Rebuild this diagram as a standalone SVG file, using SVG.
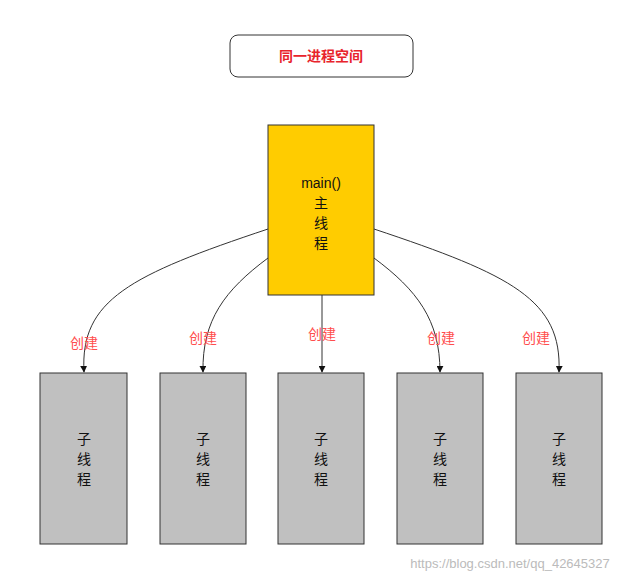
<svg xmlns="http://www.w3.org/2000/svg" width="643" height="579" viewBox="0 0 643 579">
<style>
.t{font-family:"Liberation Sans","Noto Sans CJK SC",sans-serif;font-size:14px;text-anchor:middle;fill:#111}
.c{fill:#c0c0c0;stroke:#333;stroke-width:1}
.l{font-family:"Liberation Sans","Noto Sans CJK SC",sans-serif;font-size:14px;text-anchor:middle;fill:#ff4d4d}
.e{fill:none;stroke:#333;stroke-width:1;marker-end:url(#a)}
</style>
<defs><marker id="a" viewBox="0 0 10 10" refX="9" refY="5" markerWidth="7" markerHeight="7" orient="auto"><path d="M0,0 L10,5 L0,10 z" fill="#111"/></marker></defs>
<rect width="643" height="579" fill="#fff"/>
<g id="title"><rect x="230" y="35" width="183" height="42" rx="8" fill="#fff" stroke="#333"/><text x="321" y="61" class="t" style="fill:#e8242c;font-weight:bold">同一进程空间</text></g>
<g id="main"><rect x="268" y="125" width="106" height="170" fill="#ffcc00" stroke="#333"/>
<text x="321" y="188" class="t">main()</text><text x="321" y="208" class="t">主</text><text x="321" y="228" class="t">线</text><text x="321" y="248" class="t">程</text></g>
<g id="c1"><rect x="40" y="373" width="87" height="171" class="c"/><text x="84" y="444" class="t">子</text><text x="84" y="464" class="t">线</text><text x="84" y="484" class="t">程</text></g>
<g id="c2"><rect x="160" y="373" width="86" height="171" class="c"/><text x="203" y="444" class="t">子</text><text x="203" y="464" class="t">线</text><text x="203" y="484" class="t">程</text></g>
<g id="c3"><rect x="278" y="373" width="86" height="171" class="c"/><text x="321" y="444" class="t">子</text><text x="321" y="464" class="t">线</text><text x="321" y="484" class="t">程</text></g>
<g id="c4"><rect x="397" y="373" width="86" height="171" class="c"/><text x="440" y="444" class="t">子</text><text x="440" y="464" class="t">线</text><text x="440" y="484" class="t">程</text></g>
<g id="c5"><rect x="516" y="373" width="86" height="171" class="c"/><text x="559" y="444" class="t">子</text><text x="559" y="464" class="t">线</text><text x="559" y="484" class="t">程</text></g>
<g id="edges">
<path class="e" d="M268,229 C130,275 80,300 84,372"/>
<path class="e" d="M268,258 C225,290 202,320 203,372"/>
<path class="e" d="M322,295 L322,372"/>
<path class="e" d="M374,258 C417,290 440,320 440,372"/>
<path class="e" d="M374,229 C512,275 562,300 559,372"/>
<text x="84" y="348" class="l">创建</text><text x="203" y="343" class="l">创建</text><text x="322" y="339" class="l">创建</text><text x="441" y="343" class="l">创建</text><text x="536" y="343" class="l">创建</text>
</g>
<text x="510" y="568" style="font-family:'Liberation Sans',sans-serif;font-size:13px;text-anchor:middle;fill:#bbb">https://blog.csdn.net/qq_42645327</text>
</svg>
